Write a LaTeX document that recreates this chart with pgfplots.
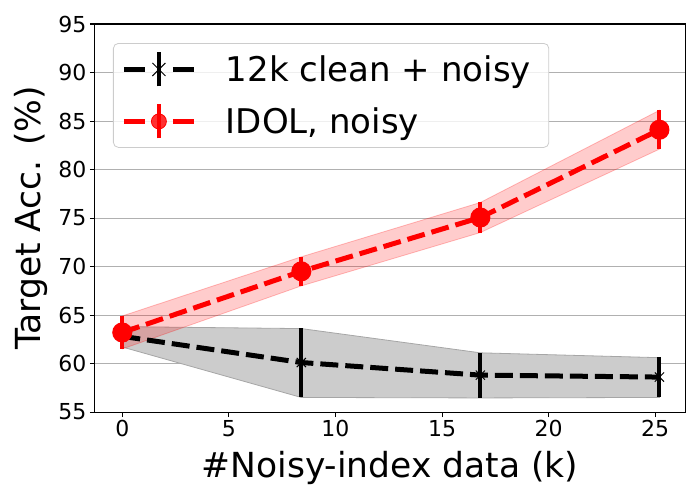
\documentclass[border=0pt]{standalone}
\usepackage{fontspec}
\setmainfont{DejaVu Sans}
\usepackage{pgfplots}
\pgfplotsset{compat=1.18}
\definecolor{gridgray}{HTML}{B0B0B0}
\definecolor{legedge}{HTML}{CCCCCC}
\begin{document}
\begin{tikzpicture}
\useasboundingbox (-95pt,-88pt) rectangle (605pt,412pt);
\begin{axis}[
    scale only axis,
    width=590pt, height=388pt,
    xmin=-1.28, xmax=26.4,
    ymin=55, ymax=95,
    xtick={0,5,10,15,20,25},
    ytick={55,60,...,95},
    ymajorgrids,
    grid style={gridgray, line width=0.8pt},
    axis line style={line width=1pt},
    tick style={black, line width=1pt},
    tick align=outside,
    tick pos=left,
    major tick length=5pt,
    /pgf/number format/assume math mode=true,
    tick label style={font=\fontsize{22}{26}\selectfont},
    label style={font=\fontsize{34.5}{40}\selectfont},
    xlabel={\#Noisy-index data (k)},
    ylabel={Target Acc. (\%)},
    xlabel style={yshift=-7pt},
    ylabel style={yshift=4pt},
    legend style={at={(0.0305,0.951)}, anchor=north west, draw=legedge, line width=0.8pt,
        rounded corners=5pt, fill=white, fill opacity=0.8, text opacity=1,
        font=\fontsize{34}{40}\selectfont, inner xsep=8pt, inner ysep=7pt,
        row sep=14pt},
    legend cell align=left,
]
% bands
\addplot[draw=black!35, fill=black!20, line width=0.8pt, forget plot] coordinates {
    (0,63.8) (8.4,63.6) (16.8,61.1) (25.2,60.6)
    (25.2,56.5) (16.8,56.45) (8.4,56.5) (0,61.7)} -- cycle;
\addplot[draw=red, draw opacity=0.25, fill=red, fill opacity=0.2, line width=0.8pt, forget plot] coordinates {
    (0,64.9) (8.4,71.0) (16.8,76.6) (25.2,86.1)
    (25.2,82.1) (16.8,73.5) (8.4,68.0) (0,61.5)} -- cycle;
% lines with error bars
\addplot[black, line width=5pt, dash pattern=on 18pt off 7pt,
    mark=x, mark size=6.5pt, mark options={solid, line width=1pt}, forget plot,
    error bars/.cd, y dir=both, y explicit,
    error bar style={line width=4pt, solid}, error mark=none]
    coordinates {(0,62.8) +- (0,1.0) (8.4,60.1) +- (0,3.55) (16.8,58.8) +- (0,2.33) (25.2,58.6) +- (0,2.05)};
\addplot[red, line width=5pt, dash pattern=on 18pt off 7pt,
    mark=*, mark size=7.5pt, mark options={solid, draw=none, fill=red}, forget plot,
    error bars/.cd, y dir=both, y explicit,
    error bar style={line width=4pt, solid}, error mark=none]
    coordinates {(0,63.2) +- (0,1.7) (8.4,69.5) +- (0,1.5) (16.8,75.05) +- (0,1.55) (25.2,84.1) +- (0,2.0)};
% legend
\addlegendimage{legend image code/.code={
    \draw[black, line width=5pt] (0pt,0pt) -- (21pt,0pt) (49pt,0pt) -- (70pt,0pt);
    \draw[black, line width=4pt] (35pt,-17pt) -- (35pt,17pt);
    \draw[black, line width=1pt] (28.5pt,-6.5pt) -- (41.5pt,6.5pt) (28.5pt,6.5pt) -- (41.5pt,-6.5pt);
    \path[draw=none, fill=none] (0pt,0pt) -- (100pt,0pt);}}
\addlegendentry{12k clean + noisy\rule{8pt}{0pt}}
\addlegendimage{legend image code/.code={
    \draw[red, line width=5pt] (0pt,0pt) -- (21pt,0pt) (49pt,0pt) -- (70pt,0pt);
    \draw[red, line width=4pt] (35pt,-17pt) -- (35pt,17pt);
    \fill[red] (35pt,0pt) circle (7.5pt);
    \path[draw=none, fill=none] (0pt,0pt) -- (100pt,0pt);}}
\addlegendentry{IDOL, noisy}
\end{axis}
\end{tikzpicture}
\end{document}
